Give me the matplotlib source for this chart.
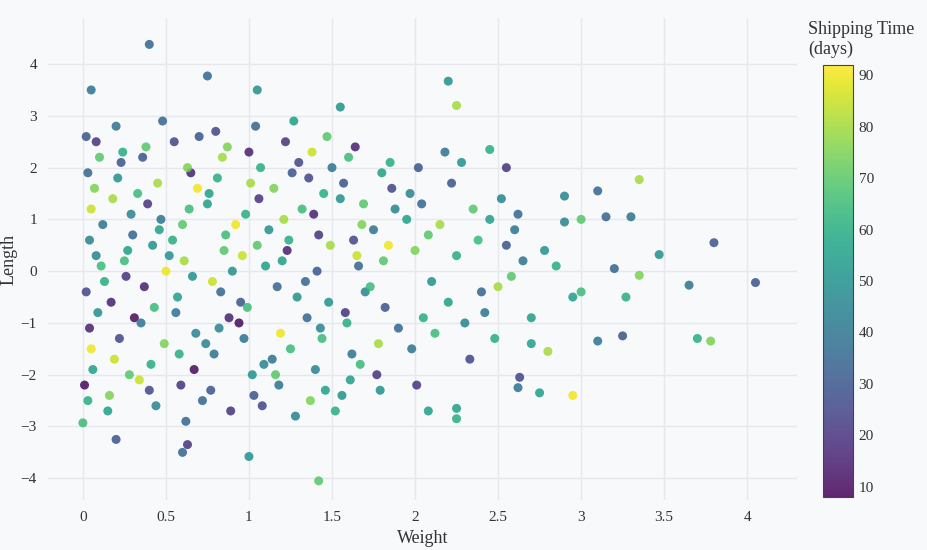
import matplotlib.pyplot as plt
import numpy as np

weight = [0.4, 0.75, 0.05, 1.05, 2.2, 2.25, 1.55, 1.42, 1.0, 0.6, 0.63, 0.2, 0.0, 2.95, 3.8, 4.05, 3.65, 3.7, 3.78,
          3.47, 3.35, 3.35, 3.25, 3.27, 3.1, 3.2, 3.15, 3.1, 2.9, 2.63, 2.62, 2.75, 2.25, 2.25, 2.08, 2.55, 2.45, 2.9,
          3.0, 2.7, 2.8, 2.95, 3.0, 2.6, 3.3,
          0.02, 0.03, 0.05, 0.04, 0.08, 0.1, 0.02, 0.06, 0.12, 0.07, 0.01, 0.09, 0.11, 0.03, 0.05, 0.08, 0.13, 0.04,
          0.15, 0.18, 0.2, 0.22, 0.25, 0.17, 0.21, 0.28, 0.3, 0.24, 0.19, 0.26, 0.29, 0.16, 0.23, 0.27, 0.31, 0.33,
          0.35, 0.38, 0.4, 0.42, 0.45, 0.37, 0.41, 0.48, 0.5, 0.44, 0.39, 0.46, 0.49, 0.36, 0.43, 0.47, 0.34, 0.52,
          0.55, 0.58, 0.6, 0.62, 0.65, 0.57, 0.61, 0.68, 0.7, 0.64, 0.59, 0.66, 0.69, 0.56, 0.63, 0.67, 0.54, 0.72,
          0.75, 0.78, 0.8, 0.82, 0.85, 0.77, 0.81, 0.88, 0.9, 0.84, 0.79, 0.86, 0.89, 0.76, 0.83, 0.87, 0.74, 0.92,
          0.95, 0.98, 1.0, 1.02, 1.05, 0.97, 1.01, 1.08, 1.1, 1.04, 0.99, 1.06, 1.09, 0.96, 1.03, 1.07, 0.94, 1.12,
          1.15, 1.18, 1.2, 1.22, 1.25, 1.17, 1.21, 1.28, 1.3, 1.24, 1.19, 1.26, 1.29, 1.16, 1.23, 1.27, 1.14, 1.32,
          1.35, 1.38, 1.4, 1.42, 1.45, 1.37, 1.41, 1.48, 1.5, 1.44, 1.39, 1.46, 1.49, 1.36, 1.43, 1.47, 1.34, 1.52,
          1.55, 1.58, 1.6, 1.62, 1.65, 1.57, 1.61, 1.68, 1.7, 1.64, 1.59, 1.66, 1.69, 1.56, 1.63, 1.67,
          1.75, 1.78, 1.8, 1.82, 1.85, 1.77, 1.81, 1.88, 1.9, 1.84, 1.79, 1.86, 1.73,
          1.95, 1.98, 2.0, 2.02, 2.05, 1.97, 2.01, 2.08, 2.1, 2.04, 2.12, 2.15, 2.18, 2.2, 2.22,
          2.25, 2.3, 2.35, 2.4, 2.28, 2.33, 2.38, 2.42, 2.45, 2.5, 2.55, 2.48, 2.52, 2.58, 2.65, 2.7, 2.62, 2.78, 2.85]
length = [4.38, 3.77, 3.5, 3.5, 3.67, 3.2, 3.17, -4.05, -3.58, -3.5, -3.35, -3.25, -2.93, -2.4, 0.55, -0.22, -0.27, -1.3, -1.35,
          0.32, -0.08, 1.77, -1.25, -0.5, -1.35, 0.05, 1.05, 1.55, 1.45, -2.05, -2.25, -2.35, -2.85, -2.65, -2.7, 2.0, 2.35, 0.95,
          1.0, -1.4, -1.55, -0.5, -0.4, 0.8, 1.05,
          2.6, -2.5, 1.2, -1.1, 0.3, 2.2, -0.4, -1.9, 0.9, 1.6, -2.2, -0.8, 0.1, 1.9, -1.5, 2.5, -0.2, 0.6,
          -2.7, 1.4, 2.8, -1.3, 0.2, -0.6, 1.8, -2.0, 0.7, 2.3, -1.7, -0.1, 1.1, -2.4, 2.1, 0.4, -0.9, 1.5,
          -1.0, 2.4, -2.3, 0.5, 1.7, -0.3, -1.8, 2.9, 0.0, -2.6, 1.3, 0.8, -1.4, 2.2, -0.7, 1.0, -2.1, 0.3,
          2.5, -1.6, 0.9, -2.9, 1.9, -0.5, 0.2, -1.2, 2.6, 1.2, -2.2, -0.1, 1.6, -0.8, 2.0, -1.9, 0.6, -2.5,
          1.3, -0.2, 2.7, -1.1, 0.4, -2.3, 1.8, -0.9, 0.0, 2.2, -1.6, 0.7, -2.7, 1.5, -0.4, 2.4, -1.4, 0.9,
          -0.6, 1.1, 2.3, -2.0, 0.5, -1.3, 1.7, -2.6, 0.1, 2.8, -0.7, 1.4, -1.8, 0.3, -2.4, 2.0, -1.0, 0.8,
          1.6, -2.2, 0.2, 2.5, -1.5, -0.3, 1.0, -2.8, 2.1, 0.6, -1.2, 1.9, -0.5, -2.0, 0.4, 2.9, -1.7, 1.2,
          -0.9, 2.3, -1.9, 0.7, 1.5, -2.5, 0.0, -0.6, 2.0, -1.3, 1.1, -2.3, 0.5, 1.8, -1.1, 2.6, -0.2, -2.7,
          1.4, -0.8, 2.2, -1.6, 0.3, 1.7, -2.1, 0.9, -0.4, 2.4, -1.0, 0.1, 1.3, -2.4, 0.6, -1.8,
          0.8, -1.4, 1.9, -0.7, 2.1, -2.0, 0.2, 1.2, -1.1, 0.5, -2.3, 1.6, -0.3,
          1.0, -1.5, 0.4, 2.0, -0.9, 1.5, -2.2, 0.7, -0.2, 1.3, -1.2, 0.9, 2.3, -0.6, 1.7,
          0.3, -1.0, 1.2, -0.4, 2.1, -1.7, 0.6, -0.8, 1.0, -0.3, 0.5, -1.3, 1.4, -0.1, 0.2, -0.9, 1.1, 0.4, 0.1]
ship_days = [35, 35, 40, 50, 50, 80, 50, 70, 50, 35, 20, 30, 65, 90, 30, 30, 40, 60, 75,
             50, 75, 80, 30, 60, 40, 35, 35, 35, 45, 25, 40, 55, 60, 55, 55, 20, 60, 45,
             70, 55, 80, 55, 65, 40, 40,
             30, 60, 85, 15, 45, 70, 25, 55, 40, 75, 10, 50, 65, 35, 90, 20, 60, 45,
             55, 80, 40, 25, 65, 15, 50, 70, 35, 60, 85, 20, 45, 75, 30, 55, 10, 65,
             40, 70, 25, 50, 80, 15, 60, 35, 90, 45, 20, 55, 75, 30, 65, 40, 85, 50,
             25, 60, 70, 35, 15, 55, 80, 45, 30, 65, 20, 50, 90, 40, 75, 10, 60, 35,
             55, 85, 25, 45, 70, 30, 60, 15, 50, 80, 40, 65, 20, 55, 35, 75, 45, 90,
             30, 60, 15, 50, 70, 40, 80, 25, 55, 35, 65, 20, 45, 85, 30, 60, 10, 50,
             75, 40, 55, 20, 65, 35, 80, 45, 25, 60, 90, 30, 50, 70, 15, 55, 40, 65,
             35, 85, 45, 20, 60, 75, 30, 50, 40, 65, 15, 55, 80, 25, 45, 70, 35, 60,
             50, 20, 65, 40, 85, 30, 55, 75, 45, 15, 60, 35, 70, 50, 25, 65,
             40, 80, 55, 30, 60, 20, 70, 45, 35, 90, 50, 25, 65,
             55, 40, 75, 30, 60, 45, 20, 70, 50, 35, 65, 80, 40, 55, 30,
             60, 45, 70, 35, 50, 25, 65, 40, 55, 80, 30, 60, 45, 70, 40, 55, 35, 50, 60]

plt.rcParams['font.family'] = ['Liberation Serif', 'DejaVu Serif']
fig = plt.figure(figsize=(9.28, 5.5), dpi=100, facecolor='#f8f9fb')
ax = fig.add_axes([48/928, 50/550, (797-48)/928, (500-18)/550])
ax.set_facecolor('#f8f9fb')
sc = ax.scatter(weight, length, c=ship_days, cmap='viridis', vmin=8, vmax=92,
                s=42, alpha=0.85, linewidths=0)
ax.set_xlim(-0.21, 4.3)
ax.set_ylim(-4.42, 4.89)
ax.set_xticks(np.arange(0, 4.01, 0.5))
ax.set_xticklabels(['0', '0.5', '1', '1.5', '2', '2.5', '3', '3.5', '4'])
ax.set_yticks(range(-4, 5))
ax.set_yticklabels([str(v).replace('-', '−') for v in range(-4, 5)])
ax.grid(color='#e6e8ee', linewidth=1)
ax.set_axisbelow(True)
for s in ax.spines.values():
    s.set_visible(False)
ax.tick_params(length=0, labelsize=11, colors='#333333', pad=8)
ax.set_xlabel('Weight', fontsize=13, color='#333333', labelpad=4)
ax.set_ylabel('Length', fontsize=13, color='#333333')
ax.yaxis.set_label_coords(-30/749, 0.5)

cax = fig.add_axes([823/928, 53/550, 30/928, (497-65)/550])
cb = fig.colorbar(sc, cax=cax)
cb.set_ticks(range(10, 91, 10))
cb.outline.set_edgecolor('#444444')
cb.outline.set_linewidth(0.8)
cax.tick_params(length=0, labelsize=11, colors='#333333', pad=4)
fig.text(808/928, 1 - 58/550, 'Shipping Time\n(days)', fontsize=13, color='#333333', va='bottom', ha='left')

fig.savefig('out.png', dpi=100, facecolor=fig.get_facecolor())
